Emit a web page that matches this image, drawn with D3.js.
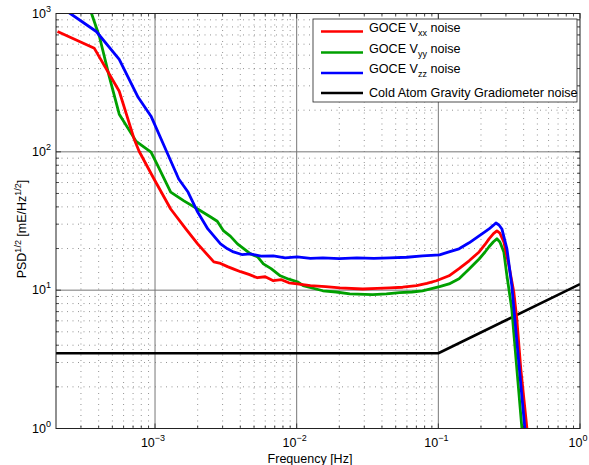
<!DOCTYPE html>
<html>
<head>
<meta charset="utf-8">
<script src="https://cdn.jsdelivr.net/npm/d3@7"></script>
<style>
  body { margin: 0; background: #fff; }
  svg { font-family: "Liberation Sans", Arial, sans-serif; }
</style>
</head>
<body>
<svg id="chart" width="589" height="465"></svg>
<script>
// values (frequency in Hz, PSD^1/2 in mE/Hz^1/2)
const vxxFreq = [2.05e-4, 3.73e-4, 5.59e-4, 7.12e-4, 7.72e-4, 9.84e-4, 1.29e-3, 1.65e-3, 2.0e-3, 2.6e-3, 2.9e-3, 3.25e-3, 3.6e-3, 4.02e-3, 4.6e-3, 5.28e-3, 6.0e-3, 6.84e-3, 7.8e-3, 8.8e-3, 1.01e-2, 1.25e-2, 1.6e-2, 2.02e-2, 2.93e-2, 3.7e-2, 4.53e-2, 5.6e-2, 7.02e-2, 8.3e-2, 9.68e-2, 0.119, 0.140, 0.165, 0.194, 0.213, 0.228, 0.245, 0.259, 0.272, 0.290, 0.315, 0.341, 0.358, 0.382, 0.422, 0.43];
const vxxPsd  = [741, 560, 274, 124, 101, 63.6, 38.6, 27.7, 21.6, 16.0, 15.6, 14.8, 14.2, 13.6, 13.0, 12.3, 12.5, 11.7, 11.9, 11.3, 11.1, 10.8, 10.6, 10.4, 10.2, 10.3, 10.4, 10.5, 10.8, 11.2, 11.7, 12.7, 14.3, 16.3, 18.9, 21.3, 23.5, 25.6, 26.8, 25.8, 22.3, 15.0, 9.7, 6.2, 2.7, 1.0, 0.9];

const vyyFreq = [3.03e-4, 3.39e-4, 4.05e-4, 4.75e-4, 5.59e-4, 7.36e-4, 9.37e-4, 1.05e-3, 1.29e-3, 1.60e-3, 2.0e-3, 2.47e-3, 2.75e-3, 3.05e-3, 3.4e-3, 3.82e-3, 4.72e-3, 5.3e-3, 5.82e-3, 6.6e-3, 7.66e-3, 8.8e-3, 1.01e-2, 1.11e-2, 1.53e-2, 1.9e-2, 2.37e-2, 3.44e-2, 4.3e-2, 5.32e-2, 6.5e-2, 7.73e-2, 0.102, 0.119, 0.140, 0.165, 0.194, 0.213, 0.228, 0.245, 0.259, 0.272, 0.290, 0.305, 0.330, 0.388, 0.394];
const vyyPsd  = [1760, 1160, 682, 351, 187, 119, 99.5, 78.9, 51.2, 44.2, 38.6, 33.8, 31.5, 26.8, 24.6, 21.6, 18.3, 17.4, 15.5, 14.3, 12.7, 12.0, 11.5, 10.8, 9.9, 9.7, 9.4, 9.3, 9.4, 9.6, 9.7, 9.9, 10.6, 11.1, 12.1, 14.2, 16.8, 18.8, 20.6, 22.4, 23.5, 22.3, 18.9, 12.7, 7.3, 1.03, 0.85];

const vzzFreq = [2.05e-4, 2.45e-4, 3.85e-4, 5.59e-4, 7.60e-4, 9.37e-4, 1.19e-3, 1.47e-3, 1.71e-3, 2.0e-3, 2.36e-3, 2.90e-3, 3.25e-3, 3.58e-3, 4.1e-3, 4.72e-3, 5.6e-3, 6.84e-3, 8.3e-3, 1.01e-2, 1.25e-2, 1.53e-2, 2.0e-2, 2.66e-2, 3.5e-2, 4.53e-2, 6.0e-2, 7.73e-2, 0.102, 0.119, 0.140, 0.165, 0.194, 0.213, 0.228, 0.245, 0.255, 0.268, 0.281, 0.305, 0.330, 0.408, 0.415];
const vzzPsd  = [1160, 1020, 741, 466, 248, 181, 104, 63.6, 51.2, 36.7, 27.7, 21.6, 19.9, 18.9, 18.1, 18.3, 17.6, 17.7, 17.1, 17.4, 17.0, 17.1, 16.9, 17.1, 17.0, 17.1, 17.3, 17.7, 18.0, 18.9, 19.9, 22.0, 24.7, 26.4, 27.7, 29.5, 30.6, 29.6, 27.7, 19.9, 10.8, 1.0, 0.9];

const cagFreq = [2e-4, 0.1, 1];
const cagPsd  = [3.5, 3.5, 11.07];

const seriesColors = ["#ff0000", "#00a000", "#0000ff", "#000000"];
const xTicks = [1e-3, 1e-2, 1e-1, 1e0];
const yTicks = [1e0, 1e1, 1e2, 1e3];

const margin = {left: 56, right: 9, top: 13.5, bottom: 36.5};
const W = 589, H = 465;
const pw = W - margin.left - margin.right;
const ph = H - margin.top - margin.bottom;

const x = d3.scaleLog().domain([2e-4, 1]).range([0, pw]);
const y = d3.scaleLog().domain([1, 1000]).range([ph, 0]);

const svg = d3.select("#chart");
const g = svg.append("g").attr("transform", `translate(${margin.left},${margin.top})`);

// minor + major grid
const minorX = [], minorY = [];
for (let e = -4; e <= 0; e++) for (let k = 2; k <= 9; k++) {
  const v = k * Math.pow(10, e);
  if (v > 2e-4 && v < 1) minorX.push(v);
}
for (let e = 0; e < 3; e++) for (let k = 2; k <= 9; k++) minorY.push(k * Math.pow(10, e));

const grid = g.append("g").attr("stroke", "#777").attr("stroke-width", 0.8);
grid.selectAll(".mx").data(minorX).join("line")
  .attr("x1", d => x(d)).attr("x2", d => x(d)).attr("y1", 0).attr("y2", ph)
  .attr("stroke-dasharray", "1,4.5");
grid.selectAll(".my").data(minorY).join("line")
  .attr("y1", d => y(d)).attr("y2", d => y(d)).attr("x1", 0).attr("x2", pw)
  .attr("stroke-dasharray", "1,4.5");
grid.selectAll(".Mx").data(xTicks.slice(0, 3)).join("line")
  .attr("x1", d => x(d)).attr("x2", d => x(d)).attr("y1", 0).attr("y2", ph)
  .attr("stroke", "#777").attr("stroke-width", 1);
grid.selectAll(".My").data(yTicks.slice(1, 3)).join("line")
  .attr("y1", d => y(d)).attr("y2", d => y(d)).attr("x1", 0).attr("x2", pw)
  .attr("stroke", "#777").attr("stroke-width", 1);

// curves
svg.append("defs").append("clipPath").attr("id", "clip")
  .append("rect").attr("width", pw).attr("height", ph);

const line = d3.line().x(d => x(d[0])).y(d => y(d[1]));
const allSeries = [
  d3.zip(vxxFreq, vxxPsd),
  d3.zip(vyyFreq, vyyPsd),
  d3.zip(vzzFreq, vzzPsd),
  d3.zip(cagFreq, cagPsd)
];
const curves = g.append("g").attr("clip-path", "url(#clip)");
// black first, then green, red, blue on top
[3, 1, 0, 2].forEach(i => {
  curves.append("path")
    .datum(allSeries[i])
    .attr("fill", "none")
    .attr("stroke", seriesColors[i])
    .attr("stroke-width", i === 3 ? 2.6 : 2.8)
    .attr("stroke-linejoin", "round")
    .attr("d", line);
});

// box + ticks inside on all sides
g.append("rect").attr("width", pw).attr("height", ph)
  .attr("fill", "none").attr("stroke", "#222").attr("stroke-width", 1);
const ticks = g.append("g").attr("stroke", "#222").attr("stroke-width", 0.8);
const tk = (arr, len, horiz) => {
  arr.forEach(v => {
    if (horiz) {
      const px = x(v);
      ticks.append("line").attr("x1", px).attr("x2", px).attr("y1", ph).attr("y2", ph - len);
      ticks.append("line").attr("x1", px).attr("x2", px).attr("y1", 0).attr("y2", len);
    } else {
      const py = y(v);
      ticks.append("line").attr("y1", py).attr("y2", py).attr("x1", 0).attr("x2", len);
      ticks.append("line").attr("y1", py).attr("y2", py).attr("x1", pw).attr("x2", pw - len);
    }
  });
};
tk(xTicks, 5, true); tk(minorX, 3, true);
tk(yTicks, 5, false); tk(minorY, 3, false);

// tick labels
const xl = g.append("g").attr("font-size", 12.5).attr("fill", "#000");
xTicks.forEach(v => {
  const e = Math.round(Math.log10(v));
  const t = xl.append("text").attr("x", x(v) - 2).attr("y", ph + 18).attr("text-anchor", "middle");
  t.append("tspan").text("10");
  t.append("tspan").attr("dy", -6).attr("font-size", 9).text(e === 0 ? "0" : "\u2212" + Math.abs(e));
});
const yl = g.append("g").attr("font-size", 12.5).attr("fill", "#000");
yTicks.forEach(v => {
  const t = yl.append("text").attr("x", -5).attr("y", y(v) + 4).attr("text-anchor", "end");
  t.append("tspan").text("10");
  t.append("tspan").attr("dy", -6).attr("font-size", 9).text(Math.round(Math.log10(v)));
});

// axis titles
g.append("text").attr("x", pw / 2 - 8).attr("y", ph + 34).attr("text-anchor", "middle")
  .attr("font-size", 12.5).text("Frequency [Hz]");
const yt = svg.append("text").attr("transform", `translate(26,${margin.top + ph / 2 + 8}) rotate(-90)`)
  .attr("text-anchor", "middle").attr("font-size", 12.5);
yt.append("tspan").text("PSD");
yt.append("tspan").attr("dy", -5).attr("font-size", 9).text("1/2");
yt.append("tspan").attr("dy", 5).text(" [mE/Hz");
yt.append("tspan").attr("dy", -5).attr("font-size", 9).text("1/2");
yt.append("tspan").attr("dy", 5).text("]");

// legend
const lg = svg.append("g").attr("transform", "translate(313,19)");
lg.append("rect").attr("width", 264).attr("height", 83).attr("fill", "#fff")
  .attr("stroke", "#222").attr("stroke-width", 0.8);
const labels = [["GOCE V", "xx", " noise"], ["GOCE V", "yy", " noise"], ["GOCE V", "zz", " noise"], ["Cold Atom Gravity Gradiometer noise", "", ""]];
const rowY = [12.5, 33.5, 54, 74];
labels.forEach((lab, i) => {
  lg.append("line").attr("x1", 8).attr("x2", 50).attr("y1", rowY[i]).attr("y2", rowY[i])
    .attr("stroke", seriesColors[i]).attr("stroke-width", 2.6);
  const t = lg.append("text").attr("x", 56).attr("y", rowY[i] + (i < 3 ? 0 : 4)).attr("font-size", 12.6);
  t.append("tspan").text(lab[0]);
  if (lab[1]) {
    t.append("tspan").attr("dy", 4).attr("font-size", 9).text(lab[1]);
    t.append("tspan").attr("dy", -4).text(lab[2]);
  }
});
</script>
</body>
</html>
